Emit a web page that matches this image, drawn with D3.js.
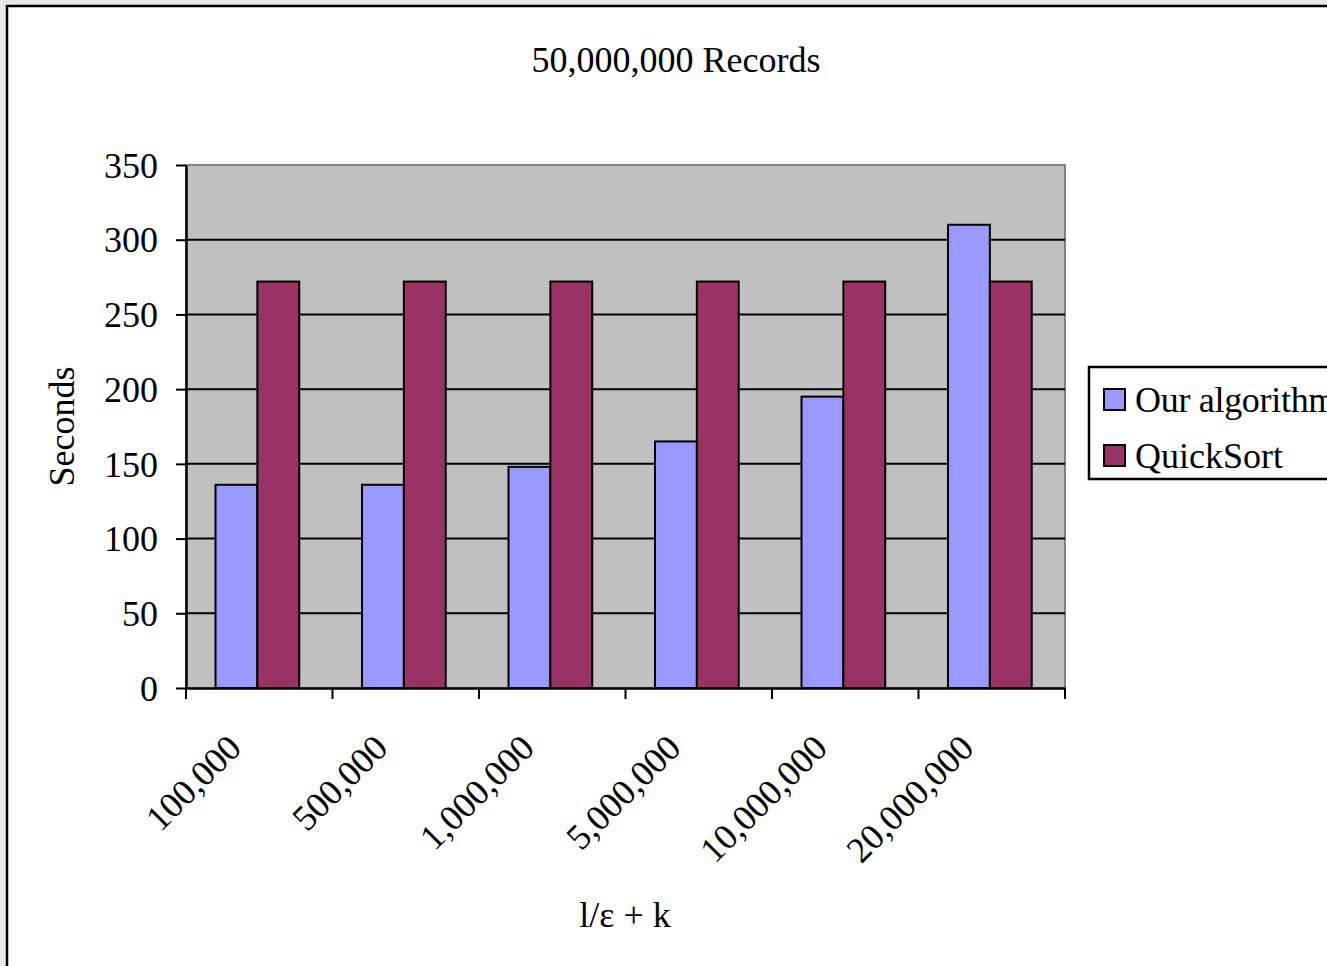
<!DOCTYPE html>
<html>
<head>
<meta charset="utf-8">
<script src="https://cdn.jsdelivr.net/npm/d3@7"></script>
<style>
  html, body { margin: 0; padding: 0; background: #e8e8e8; }
  svg { display: block; }
  text { font-family: "Liberation Serif", "Times New Roman", serif; fill: #000; }
</style>
</head>
<body>
<svg id="chart" width="1327" height="966"></svg>
<script>
// Sort timings for 50,000,000 records
const categories = ["100,000", "500,000", "1,000,000", "5,000,000", "10,000,000", "20,000,000"];
const seriesNames = ["Our algorithm", "QuickSort"];
const ourAlgorithm = [136, 136, 148, 165, 195, 310];
const quickSort = [272, 272, 272, 272, 272, 272];
const yTicks = [0, 50, 100, 150, 200, 250, 300, 350];
const colors = ["#9999ff", "#993366"];

const svg = d3.select("#chart");
const W = 1327, H = 966;

// chart frame
svg.append("rect").attr("x", 7).attr("y", 6).attr("width", W + 10).attr("height", H + 10)
  .attr("fill", "#fff").attr("stroke", "#000").attr("stroke-width", 2.5);

const plot = { left: 186, right: 1065, top: 165, bottom: 688 };

const x = d3.scaleBand().domain(categories).range([plot.left, plot.right]).paddingInner(0).paddingOuter(0);
const inner = d3.scaleBand().domain(seriesNames).range([0, x.bandwidth()]).paddingOuter(0.75).paddingInner(0).align(0.47);
const y = d3.scaleLinear().domain([0, 350]).range([plot.bottom, plot.top]);

// plot background
svg.append("rect").attr("x", plot.left).attr("y", plot.top)
  .attr("width", plot.right - plot.left).attr("height", plot.bottom - plot.top)
  .attr("fill", "#c0c0c0").attr("stroke", "#808080").attr("stroke-width", 2);

// horizontal gridlines
svg.append("g").selectAll("line").data(yTicks.filter(d => d > 0 && d < 350)).join("line")
  .attr("x1", plot.left).attr("x2", plot.right)
  .attr("y1", d => y(d)).attr("y2", d => y(d))
  .attr("stroke", "#000").attr("stroke-width", 2);

// bars
const rows = categories.map((c, i) => ({ cat: c, vals: [ourAlgorithm[i], quickSort[i]] }));
const groups = svg.append("g").selectAll("g").data(rows).join("g")
  .attr("transform", d => `translate(${x(d.cat)},0)`);
groups.selectAll("rect").data(d => d.vals.map((v, j) => ({ name: seriesNames[j], v, j }))).join("rect")
  .attr("x", d => inner(d.name))
  .attr("width", inner.bandwidth())
  .attr("y", d => y(d.v))
  .attr("height", d => y(0) - y(d.v))
  .attr("fill", d => colors[d.j])
  .attr("stroke", "#000").attr("stroke-width", 2);

// y axis
const yAxis = svg.append("g").attr("transform", `translate(${plot.left},0)`)
  .call(d3.axisLeft(y).tickValues(yTicks).tickSize(10).tickPadding(18).tickSizeOuter(0));
yAxis.select(".domain").attr("stroke", "#000").attr("stroke-width", 2.5);
yAxis.selectAll(".tick line").attr("stroke", "#000").attr("stroke-width", 2);
yAxis.selectAll(".tick text").attr("font-size", 36).attr("dy", "0.34em")
  .attr("font-family", "Liberation Serif");

// x axis
const xAxis = svg.append("g").attr("transform", `translate(0,${plot.bottom})`)
  .call(d3.axisBottom(x).tickSize(0).tickFormat(""));
xAxis.select(".domain").attr("stroke", "#000").attr("stroke-width", 2.5);
svg.append("g").selectAll("line").data([...categories.map(c => x(c)), plot.right]).join("line")
  .attr("x1", d => d).attr("x2", d => d)
  .attr("y1", plot.bottom).attr("y2", plot.bottom + 11)
  .attr("stroke", "#000").attr("stroke-width", 2);

svg.append("g").selectAll("text").data(categories).join("text")
  .attr("transform", d => `translate(${x(d) + x.bandwidth() / 2 - 16},${plot.bottom + 62}) rotate(-45)`)
  .attr("text-anchor", "end")
  .attr("font-size", 36)
  .text(d => d);

// titles
svg.append("text").attr("x", 676).attr("y", 72).attr("text-anchor", "middle")
  .attr("font-size", 36).text("50,000,000 Records");
svg.append("text").attr("transform", `translate(74,${(plot.top + plot.bottom) / 2}) rotate(-90)`)
  .attr("text-anchor", "middle").attr("font-size", 36).text("Seconds");
svg.append("text").attr("x", 625).attr("y", 927).attr("text-anchor", "middle")
  .attr("font-size", 36).text("l/ε + k");

// legend
const lg = svg.append("g");
lg.append("rect").attr("x", 1089).attr("y", 367).attr("width", 260).attr("height", 112)
  .attr("fill", "#fff").attr("stroke", "#000").attr("stroke-width", 2.5);
seriesNames.forEach((n, i) => {
  const cy = 399 + i * 56;
  lg.append("rect").attr("x", 1104).attr("y", cy - 10).attr("width", 21).attr("height", 21)
    .attr("fill", colors[i]).attr("stroke", "#000").attr("stroke-width", 2);
  lg.append("text").attr("x", 1135).attr("y", cy + 13).attr("font-size", 36)
    .attr("letter-spacing", i === 0 ? -0.3 : 0).text(n);
});
</script>
</body>
</html>
